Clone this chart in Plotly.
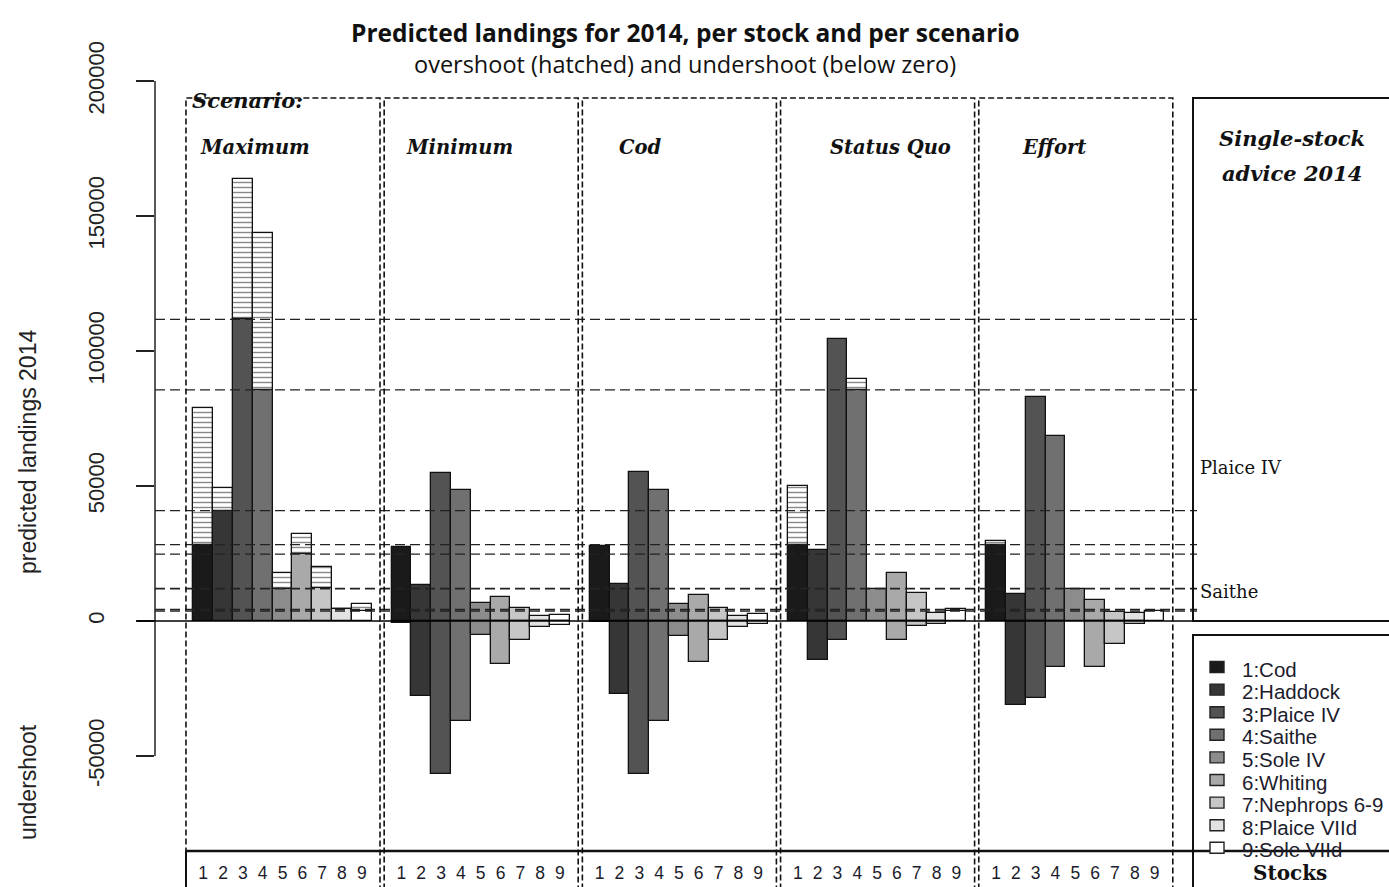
import plotly.graph_objects as go

# ---- data -------------------------------------------------------------
stocks = ["1:Cod", "2:Haddock", "3:Plaice IV", "4:Saithe", "5:Sole IV",
          "6:Whiting", "7:Nephrops 6-9", "8:Plaice VIId", "9:Sole VIId"]
stock_ticks = ["1", "2", "3", "4", "5", "6", "7", "8", "9"]
scenarios = ["Maximum", "Minimum", "Cod", "Status Quo", "Effort"]

# single-stock advice 2014 (tonnes)
advice = [28300, 40900, 111700, 85600, 11900, 24800, 12100, 4300, 3700]

# predicted landings 2014 per scenario (tonnes)
landings_maximum = [78900, 49300, 163800, 143800, 17600, 32300, 20100, 4600, 6300]
landings_minimum = [27400, 13200, 54900, 48400, 6600, 8900, 5000, 2000, 2400]
landings_cod = [27900, 13800, 55200, 48400, 6400, 9600, 4900, 1900, 2500]
landings_status_quo = [50100, 26300, 104600, 89500, 11900, 17800, 10200, 3100, 4300]
landings_effort = [29500, 9900, 83000, 68400, 11900, 7900, 3500, 3100, 3700]

y_ticks = [-50000, 0, 50000, 100000, 150000, 200000]

fills = ["#1a1a1a", "#363636", "#535353", "#707070", "#8c8c8c",
         "#a9a9a9", "#c6c6c6", "#e2e2e2", "#ffffff"]

landings = [landings_maximum, landings_minimum, landings_cod,
            landings_status_quo, landings_effort]

# ---- page geometry ----------------------------------------------------
W, H = 1389, 887


def px(x):
    return x / W


def py(y):
    return 1 - y / H


X0_PX, UNIT = 193.3, 19.82           # left edge of first bar, bar width
AX_L, AX_R = 155, 1193               # x-axis domain in pixels
x_range = [(AX_L - X0_PX) / UNIT, (AX_R - X0_PX) / UNIT]
Y0_PX, PX_PER = 621, 0.0027          # zero line and pixels per tonne
y_range = [(Y0_PX - H) / PX_PER, Y0_PX / PX_PER]

fig = go.Figure()

outline = dict(color="#111111", width=1.3)
for i, name in enumerate(stocks):
    a = advice[i]
    xs_pos, ys_pos, xs_hat, ys_hat, xs_neg, ys_neg = [], [], [], [], [], []
    for g, land in enumerate(landings):
        xc = 10 * g + i + 0.5
        L = land[i]
        xs_pos.append(xc)
        ys_pos.append(min(L, a))
        if L > a:
            xs_hat.append(xc)
            ys_hat.append(L - a)
        if L < a:
            xs_neg.append(xc)
            ys_neg.append(-(a - L))
    # landings within advice
    fig.add_trace(go.Bar(x=xs_pos, y=ys_pos, base=0, width=1, name=name,
                         marker=dict(color=fills[i], line=outline),
                         showlegend=False, opacity=1))
    # undershoot, drawn below zero
    if xs_neg:
        fig.add_trace(go.Bar(x=xs_neg, y=ys_neg, base=0, width=1,
                             marker=dict(color=fills[i], line=outline),
                             showlegend=False, opacity=1))
    # overshoot, hatched on top of the advice level
    if xs_hat:
        fig.add_trace(go.Bar(x=xs_hat, y=ys_hat, base=a, width=1,
                             marker=dict(color="white", line=outline,
                                         pattern=dict(shape="-", size=5,
                                                      solidity=0.28,
                                                      fgcolor="#111111",
                                                      bgcolor="white")),
                             showlegend=False, opacity=1))

shapes = []
# y axis line (R style, only between the outer ticks)
shapes.append(dict(type="line", xref="paper", yref="y", x0=px(AX_L), x1=px(AX_L),
                   y0=y_ticks[0], y1=y_ticks[-1],
                   line=dict(color="#222222", width=1.5)))
# zero line
shapes.append(dict(type="line", xref="paper", yref="y", x0=px(137), x1=px(1193),
                   y0=0, y1=0, line=dict(color="#000000", width=1.4)))
# advice levels
for a in advice:
    shapes.append(dict(type="line", xref="paper", yref="y", x0=px(AX_L), x1=px(1197),
                       y0=a, y1=a,
                       line=dict(color="#222222", width=1.3, dash="10px,5px")))
# scenario panels
for g in range(len(scenarios)):
    shapes.append(dict(type="rect", xref="x", yref="paper",
                       x0=10 * g - 0.37, x1=10 * g + 9.42,
                       y0=-0.05, y1=py(98),
                       line=dict(color="#111111", width=1.6, dash="6px,3px")))
# advice box, legend box, stock-number strip
shapes.append(dict(type="rect", xref="paper", yref="paper", x0=px(1193), x1=px(1400),
                   y0=py(621), y1=py(98), line=dict(color="#111111", width=2)))
shapes.append(dict(type="rect", xref="paper", yref="paper", x0=px(1193), x1=px(1400),
                   y0=py(900), y1=py(635), line=dict(color="#111111", width=2)))
shapes.append(dict(type="line", xref="paper", yref="paper", x0=px(186), x1=px(1389),
                   y0=py(851), y1=py(851), line=dict(color="#111111", width=2.5)))
shapes.append(dict(type="line", xref="paper", yref="paper", x0=px(186), x1=px(186),
                   y0=py(851), y1=py(890), line=dict(color="#111111", width=2)))

# legend swatches
LEG_Y0, LEG_DY = 667, 22.6
for i, name in enumerate(stocks):
    yc = LEG_Y0 + i * LEG_DY
    shapes.append(dict(type="rect", xref="paper", yref="paper",
                       x0=px(1210), x1=px(1224), y0=py(yc + 5.5), y1=py(yc - 5.5),
                       fillcolor=fills[i], line=dict(color="#222222", width=1.4)))

ann = []
serif_bi = dict(family="DejaVu Serif", size=21, color="#111111")
serif_panel = dict(family="DejaVu Serif", size=19.5, color="#111111")


def label(text, x, y, font, xanchor="left", angle=0):
    ann.append(dict(text=text, x=px(x), y=py(y), xref="paper", yref="paper",
                    xanchor=xanchor, yanchor="middle", showarrow=False,
                    font=font, textangle=angle))


label("<b>Predicted landings for 2014, per stock and per scenario</b>", 685, 32,
      dict(family="Open Sans", size=24.5, color="#111111"), "center")
label("overshoot (hatched) and undershoot (below zero)", 685, 64,
      dict(family="Open Sans", size=23.5, color="#111111"), "center")
label("predicted landings 2014", 28, 452,
      dict(family="Liberation Sans", size=23, color="#222222"), "center", -90)
label("undershoot", 28, 782,
      dict(family="Liberation Sans", size=23, color="#222222"), "center", -90)
label("<b><i>Scenario:</i></b>", 190, 100, serif_bi)
for name, xl in zip(scenarios, [198, 404, 617, 828, 1020]):
    label(f"<b><i>{name}</i></b>", xl, 148, serif_panel)
label("<b><i>Single-stock</i></b>", 1292, 138, serif_bi, "center")
label("<b><i>advice 2014</i></b>", 1292, 174, serif_bi, "center")
label("Plaice IV", 1198, 467, dict(family="DejaVu Serif", size=18, color="#111111"))
label("Saithe", 1198, 591, dict(family="DejaVu Serif", size=18, color="#111111"))
label("<b>Stocks</b>", 1290, 873, dict(family="DejaVu Serif", size=20, color="#111111"),
      "center")
for i, name in enumerate(stocks):
    label(name, 1240, LEG_Y0 + 2 + i * LEG_DY,
          dict(family="Liberation Sans", size=20.5, color="#1c1c2c"))

tick_x = [10 * g + i + 0.5 for g in range(len(scenarios)) for i in range(len(stock_ticks))]
tick_text = stock_ticks * len(scenarios)

fig.update_layout(
    width=W, height=H,
    margin=dict(l=0, r=0, t=0, b=0),
    paper_bgcolor="white", plot_bgcolor="white",
    barmode="overlay", bargap=0,
    showlegend=False,
    shapes=shapes, annotations=ann,
    xaxis=dict(domain=[px(AX_L), px(AX_R)], range=x_range, anchor="free",
               position=py(860), showgrid=False, zeroline=False, showline=False,
               ticks="", tickmode="array", tickvals=tick_x, ticktext=tick_text,
               tickfont=dict(family="Liberation Sans", size=17.5, color="#1c1c2c")),
    yaxis=dict(domain=[0, 1], range=y_range, showgrid=False, zeroline=False,
               showline=False, ticks="outside", ticklen=18, tickwidth=1.5,
               tickcolor="#222222", tickmode="array", tickvals=y_ticks,
               ticktext=[str(v) for v in y_ticks], tickangle=-90,
               ticklabelstandoff=23,
               tickfont=dict(family="Liberation Sans", size=22, color="#222222")),
)

fig.write_html("out.html")
